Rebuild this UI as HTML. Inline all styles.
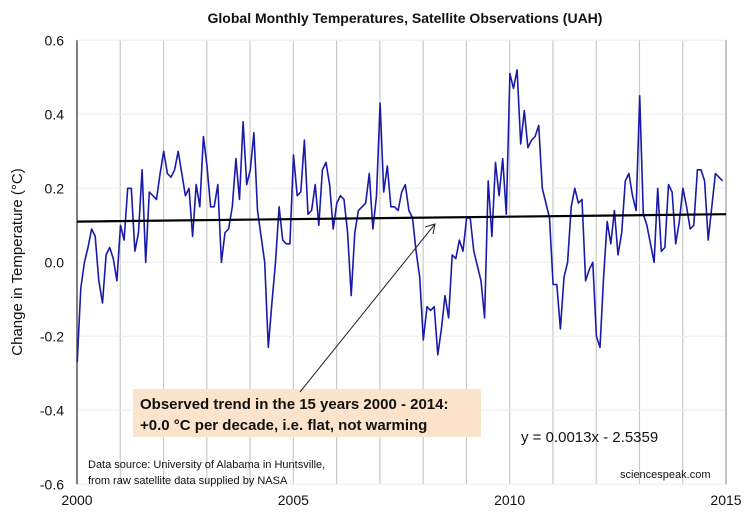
<!DOCTYPE html>
<html><head><meta charset="utf-8"><style>
body{margin:0;background:#fff;}
svg text{font-family:"Liberation Sans",sans-serif;}
</style></head><body>
<svg id="chart" width="750" height="519" viewBox="0 0 750 519" xmlns="http://www.w3.org/2000/svg">
<rect width="750" height="519" fill="#fff"/>
<text x="405" y="23" text-anchor="middle" font-size="14" font-weight="bold" fill="#111">Global Monthly Temperatures, Satellite Observations (UAH)</text>
<text transform="translate(22,262) rotate(-90)" text-anchor="middle" font-size="15" fill="#111">Change in Temperature (°C)</text>
<g id="grid"></g>
<g id="ticks"></g>
<rect x="133" y="389" width="348" height="48" fill="#fbe3cc"/>
<text x="140" y="409" font-size="15" font-weight="bold" fill="#111">Observed trend in the 15 years 2000 - 2014:</text>
<text x="140" y="430" font-size="15" font-weight="bold" fill="#111">+0.0 °C per decade, i.e. flat, not warming</text>
<text x="521" y="442" font-size="15" fill="#111">y = 0.0013x - 2.5359</text>
<text x="88" y="468" font-size="11" fill="#111">Data source:  University of Alabama in Huntsville,</text>
<text x="88" y="484" font-size="11" fill="#111">from raw satellite data supplied by NASA</text>
<text x="620" y="478" font-size="11" fill="#111">sciencespeak.com</text>
<line x1="300" y1="392" x2="435" y2="224" stroke="#222" stroke-width="1"/>
<polyline points="425,227 435,224 433,234" fill="none" stroke="#222" stroke-width="1"/>
</svg>
<script>
const years=[2000,2005,2010,2015];
const yTicks=[0.6,0.4,0.2,0.0,-0.2,-0.4,-0.6];
const yTickLabels=["0.6","0.4","0.2","0.0","-0.2","-0.4","-0.6"];
const temps=[-0.27,-0.07,0.0,0.04,0.09,0.07,-0.05,-0.11,0.02,0.04,0.01,-0.05,
0.10,0.06,0.20,0.20,0.03,0.08,0.25,0.0,0.19,0.18,0.17,0.24,
0.30,0.24,0.23,0.25,0.30,0.24,0.18,0.20,0.07,0.21,0.15,0.34,
0.26,0.15,0.15,0.21,0.0,0.08,0.09,0.15,0.28,0.17,0.38,0.21,
0.25,0.35,0.14,0.07,0.0,-0.23,-0.11,0.0,0.15,0.06,0.05,0.05,
0.29,0.18,0.19,0.33,0.13,0.14,0.21,0.10,0.25,0.27,0.21,0.09,
0.16,0.18,0.17,0.08,-0.09,0.08,0.14,0.15,0.16,0.24,0.09,0.18,
0.43,0.19,0.26,0.15,0.15,0.14,0.19,0.21,0.14,0.12,0.03,-0.04,
-0.21,-0.12,-0.13,-0.12,-0.25,-0.18,-0.09,-0.15,0.02,0.01,0.06,0.03,
0.12,0.12,0.03,-0.01,-0.05,-0.15,0.22,0.07,0.27,0.18,0.28,0.13,
0.51,0.47,0.52,0.32,0.41,0.31,0.33,0.34,0.37,0.20,0.16,0.12,
-0.06,-0.06,-0.18,-0.04,0.00,0.15,0.20,0.16,0.17,-0.05,-0.02,0.0,
-0.20,-0.23,-0.04,0.11,0.05,0.14,0.02,0.08,0.22,0.24,0.18,0.14,
0.45,0.13,0.10,0.05,0.0,0.20,0.03,0.04,0.21,0.19,0.05,0.11,
0.20,0.15,0.09,0.10,0.25,0.25,0.22,0.06,0.15,0.24,0.23,0.22];
const trendStart=0.11, trendEnd=0.13;
const NS="http://www.w3.org/2000/svg";
const X0=77,X1=726,Y0=262.3,YS=370;
const xs=t=>X0+(t-2000)/15*(X1-X0);
const ys=v=>Y0-v*YS;
const svg=document.getElementById('chart');
const grid=document.getElementById('grid'), ticks=document.getElementById('ticks');
function mk(tag,a,parent){const e=document.createElementNS(NS,tag);for(const k in a)e.setAttribute(k,a[k]);parent.appendChild(e);return e;}
for(let y=2001;y<2015;y++){
 const l=mk('line',{x1:xs(y),x2:xs(y),y1:ys(0.6),y2:ys(-0.6),stroke:'#c8c8c8','stroke-width':1.2},grid);
 
 
}
yTicks.forEach((v,i)=>{
 const l=mk('line',{x1:X0,x2:X1,y1:ys(v),y2:ys(v),stroke:'#eee','stroke-width':1},grid);
 
 
 const t=mk('text',{x:64,y:ys(v)+5,'text-anchor':'end','font-size':14,fill:'#111'},ticks);
 t.textContent=yTickLabels[i];
 
 
});
years.forEach(y=>{
 const t=mk('text',{x:xs(y),y:505,'text-anchor':'middle','font-size':14,fill:'#111'},ticks);
 t.textContent=y;
 
 
});
const ax=mk('line',{x1:X0,x2:X0,y1:ys(0.6),y2:ys(-0.6),stroke:'#555','stroke-width':1.5},grid);


const rx=mk('line',{x1:X1,x2:X1,y1:ys(0.6),y2:ys(-0.6),stroke:'#999','stroke-width':1.2},grid);


const pts=temps.map((v,i)=>xs(2000+i/12+0.005).toFixed(1)+','+ys(v).toFixed(1)).join(' ');
const pl=mk('polyline',{points:pts,fill:'none',stroke:'#1a1aaa','stroke-width':1.6,'stroke-linejoin':'round'},grid);


const tr=mk('line',{x1:X0,x2:X1,y1:ys(trendStart),y2:ys(trendEnd),stroke:'#000','stroke-width':2.2},grid);


</script>
</body></html>
